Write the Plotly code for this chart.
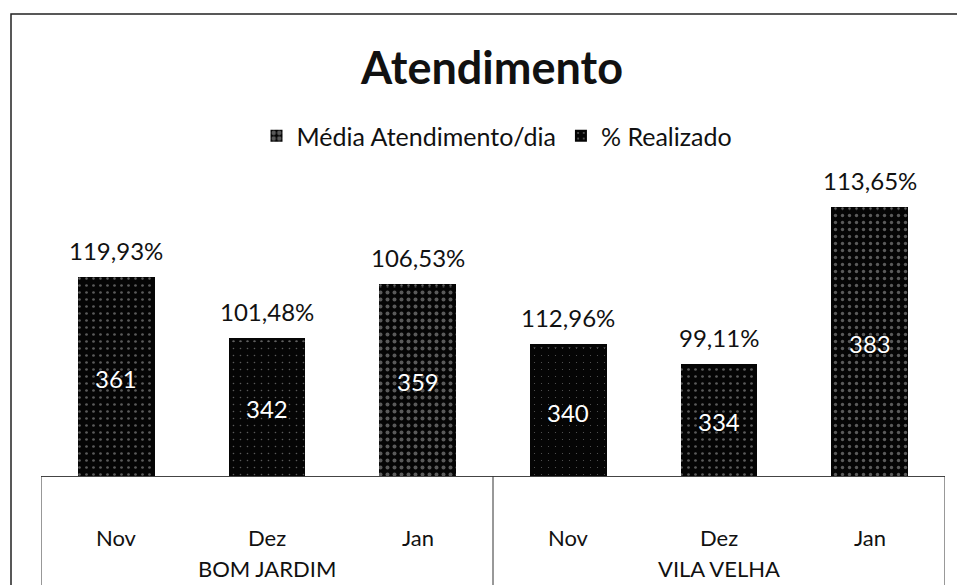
import plotly.graph_objects as go

# ---- data ----
groups = ["BOM JARDIM", "BOM JARDIM", "BOM JARDIM", "VILA VELHA", "VILA VELHA", "VILA VELHA"]
months = ["Nov", "Dez", "Jan", "Nov", "Dez", "Jan"]
media_dia = [361, 342, 359, 340, 334, 383]
pct_realizado = [1.1993, 1.0148, 1.0653, 1.1296, 0.9911, 1.1365]
y_range = [300, 400]

W, H = 957, 585
L, R, T, B = 41, 12, 156, 109
pw, ph = W - L - R, H - T - B


def px_x(p):
    return (p - L) / pw


def px_y(p):
    return 1 - (p - T) / ph


font_family = "Lato, 'Open Sans', sans-serif"
pct_text = [f"{v*100:.2f}%".replace(".", ",") for v in pct_realizado]

solidity = [0.12, 0.04, 0.25, 0.02, 0.12, 0.18]

fig = go.Figure()
fig.add_trace(go.Bar(
    name="Média Atendimento/dia",
    x=[groups, months], y=media_dia,
    marker=dict(color="#050505", line=dict(width=0),
                pattern=dict(shape=".", fgcolor="#b0b0b0", bgcolor="#050505",
                             size=7, solidity=solidity, fillmode="overlay")),
    width=0.51,
))
fig.add_trace(go.Bar(
    name="% Realizado",
    x=[groups, months], y=pct_realizado,
    marker=dict(color="#050505", line=dict(width=0),
                pattern=dict(shape=".", fgcolor="#bbbbbb", bgcolor="#050505",
                             size=7, solidity=0.1, fillmode="overlay")),
    width=0.51,
    hoverinfo="skip",
))

# value labels inside bars (centre of the visible part) and % labels above
for i in range(len(media_dia)):
    fig.add_annotation(
        x=i, y=(media_dia[i] + y_range[0]) / 2, text=str(media_dia[i]),
        showarrow=False, yanchor="middle",
        font=dict(size=24, color="white", family=font_family, shadow="0 0 2px #000"),
    )
    fig.add_annotation(
        x=i, y=media_dia[i] + pct_realizado[i], text=pct_text[i],
        showarrow=False, yanchor="bottom", yshift=10,
        font=dict(size=24, color="#111", family=font_family),
    )

# category labels (two levels)
for i, m in enumerate(months):
    fig.add_annotation(x=i, xref="x", y=0, yref="paper", yshift=-61,
                       text=m, showarrow=False, yanchor="middle",
                       font=dict(size=22, color="#111", family=font_family))
seen = []
for g in groups:
    if g not in seen:
        seen.append(g)
for g in seen:
    idx = [i for i, gg in enumerate(groups) if gg == g]
    fig.add_annotation(x=sum(idx) / len(idx), xref="x", y=0, yref="paper", yshift=-92,
                       text=g, showarrow=False, yanchor="middle",
                       font=dict(size=22, color="#111", family=font_family))

# group divider lines of the category box
bounds = [-0.5] + [i - 0.5 for i in range(1, len(groups)) if groups[i] != groups[i - 1]] + [len(groups) - 0.5]
for b in bounds:
    fig.add_shape(type="line", xref="x", yref="paper", x0=b, x1=b,
                  y0=0, y1=px_y(600), line=dict(color="#333", width=1))

# outer chart border
fig.add_shape(type="rect", xref="paper", yref="paper",
              x0=px_x(11), x1=px_x(965), y0=px_y(600), y1=px_y(14),
              line=dict(color="#222", width=1.5), layer="below")

fig.update_layout(
    width=W, height=H,
    margin=dict(l=L, r=R, t=T, b=B, autoexpand=False),
    paper_bgcolor="white", plot_bgcolor="white",
    barmode="stack",
    bargap=0.49,
    title=dict(text="<b>Atendimento</b>", x=px_x(492), xanchor="center", xref="paper",
               y=1 - 68 / H, yanchor="middle",
               font=dict(size=45, color="#111", family=font_family)),
    legend=dict(orientation="h", x=px_x(497), xanchor="center",
                y=px_y(136), yanchor="middle", traceorder="normal",
                font=dict(size=25, color="#111", family=font_family),
                tracegroupgap=0),
    showlegend=True,
    font=dict(family=font_family, color="#111"),
)
fig.update_xaxes(
    type="multicategory", automargin=False,
    showline=True, linecolor="#444", linewidth=1,
    showticklabels=False, showdividers=False, ticks="",
    range=[-0.5, len(groups) - 0.5],
)
fig.update_yaxes(range=y_range, visible=False, showgrid=False)

fig.write_html("out.html", config={"displayModeBar": False},
               post_script="document.body.style.margin='0px';")
